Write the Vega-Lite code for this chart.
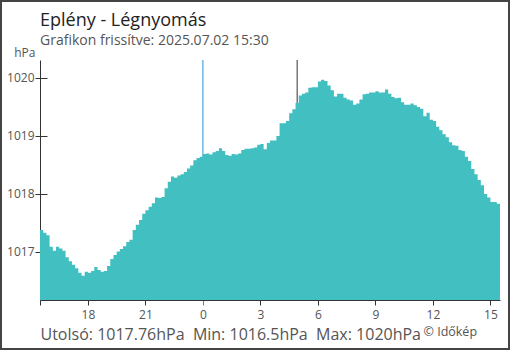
{
"$schema": "https://vega.github.io/schema/vega-lite/v6.json",
"width": 508, "height": 348,
"autosize": "none",
"padding": {"left": 1, "top": 1, "right": 1, "bottom": 1},
"background": "white",
"config": {"font": "Open Sans", "view": {"stroke": "#444", "strokeWidth": 2}, "axis": {"grid": false}},
"title": {"text": "Eplény - Légnyomás", "subtitle": "Grafikon frissítve: 2025.07.02 15:30", "anchor": "start", "frame": "group", "orient": "top", "offset": -47, "dx": 39, "fontSize": 18, "fontWeight": "normal", "color": "#222", "subtitleFontSize": 14, "subtitleColor": "#555", "subtitlePadding": 4},
"datasets": {
"pressure": [
{"t":"2025-07-01T15:30","p":1017.38},{"t":"2025-07-01T15:40","p":1017.33},{"t":"2025-07-01T15:50","p":1017.29},{"t":"2025-07-01T16:00","p":1017.09},{"t":"2025-07-01T16:10","p":1017.02},{"t":"2025-07-01T16:20","p":1017.09},{"t":"2025-07-01T16:30","p":1017.06},{"t":"2025-07-01T16:40","p":1017.02},{"t":"2025-07-01T16:50","p":1016.91},{"t":"2025-07-01T17:00","p":1016.84},
{"t":"2025-07-01T17:10","p":1016.78},{"t":"2025-07-01T17:20","p":1016.72},{"t":"2025-07-01T17:30","p":1016.64},{"t":"2025-07-01T17:40","p":1016.59},{"t":"2025-07-01T17:50","p":1016.66},{"t":"2025-07-01T18:00","p":1016.64},{"t":"2025-07-01T18:10","p":1016.67},{"t":"2025-07-01T18:20","p":1016.74},{"t":"2025-07-01T18:30","p":1016.69},{"t":"2025-07-01T18:40","p":1016.66},
{"t":"2025-07-01T18:50","p":1016.67},{"t":"2025-07-01T19:00","p":1016.76},{"t":"2025-07-01T19:10","p":1016.88},{"t":"2025-07-01T19:20","p":1016.95},{"t":"2025-07-01T19:30","p":1017.01},{"t":"2025-07-01T19:40","p":1017.05},{"t":"2025-07-01T19:50","p":1017.10},{"t":"2025-07-01T20:00","p":1017.17},{"t":"2025-07-01T20:10","p":1017.21},{"t":"2025-07-01T20:20","p":1017.38},
{"t":"2025-07-01T20:30","p":1017.47},{"t":"2025-07-01T20:40","p":1017.55},{"t":"2025-07-01T20:50","p":1017.66},{"t":"2025-07-01T21:00","p":1017.72},{"t":"2025-07-01T21:10","p":1017.78},{"t":"2025-07-01T21:20","p":1017.84},{"t":"2025-07-01T21:30","p":1017.94},{"t":"2025-07-01T21:40","p":1017.93},{"t":"2025-07-01T21:50","p":1017.95},{"t":"2025-07-01T22:00","p":1018.10},
{"t":"2025-07-01T22:10","p":1018.21},{"t":"2025-07-01T22:20","p":1018.30},{"t":"2025-07-01T22:30","p":1018.28},{"t":"2025-07-01T22:40","p":1018.32},{"t":"2025-07-01T22:50","p":1018.34},{"t":"2025-07-01T23:00","p":1018.38},{"t":"2025-07-01T23:10","p":1018.44},{"t":"2025-07-01T23:20","p":1018.49},{"t":"2025-07-01T23:30","p":1018.58},{"t":"2025-07-01T23:40","p":1018.62},
{"t":"2025-07-01T23:50","p":1018.64},{"t":"2025-07-02T00:00","p":1018.69},{"t":"2025-07-02T00:10","p":1018.70},{"t":"2025-07-02T00:20","p":1018.68},{"t":"2025-07-02T00:30","p":1018.72},{"t":"2025-07-02T00:40","p":1018.74},{"t":"2025-07-02T00:50","p":1018.79},{"t":"2025-07-02T01:00","p":1018.74},{"t":"2025-07-02T01:10","p":1018.67},{"t":"2025-07-02T01:20","p":1018.66},
{"t":"2025-07-02T01:30","p":1018.69},{"t":"2025-07-02T01:40","p":1018.68},{"t":"2025-07-02T01:50","p":1018.70},{"t":"2025-07-02T02:00","p":1018.76},{"t":"2025-07-02T02:10","p":1018.78},{"t":"2025-07-02T02:20","p":1018.78},{"t":"2025-07-02T02:30","p":1018.79},{"t":"2025-07-02T02:40","p":1018.80},{"t":"2025-07-02T02:50","p":1018.85},{"t":"2025-07-02T03:00","p":1018.86},
{"t":"2025-07-02T03:10","p":1018.77},{"t":"2025-07-02T03:20","p":1018.88},{"t":"2025-07-02T03:30","p":1018.92},{"t":"2025-07-02T03:40","p":1018.92},{"t":"2025-07-02T03:50","p":1019.00},{"t":"2025-07-02T04:00","p":1019.22},{"t":"2025-07-02T04:10","p":1019.22},{"t":"2025-07-02T04:20","p":1019.26},{"t":"2025-07-02T04:30","p":1019.39},{"t":"2025-07-02T04:40","p":1019.46},
{"t":"2025-07-02T04:50","p":1019.57},{"t":"2025-07-02T05:00","p":1019.70},{"t":"2025-07-02T05:10","p":1019.73},{"t":"2025-07-02T05:20","p":1019.75},{"t":"2025-07-02T05:30","p":1019.83},{"t":"2025-07-02T05:40","p":1019.84},{"t":"2025-07-02T05:50","p":1019.84},{"t":"2025-07-02T06:00","p":1019.94},{"t":"2025-07-02T06:10","p":1019.97},{"t":"2025-07-02T06:20","p":1019.95},
{"t":"2025-07-02T06:30","p":1019.87},{"t":"2025-07-02T06:40","p":1019.79},{"t":"2025-07-02T06:50","p":1019.68},{"t":"2025-07-02T07:00","p":1019.73},{"t":"2025-07-02T07:10","p":1019.73},{"t":"2025-07-02T07:20","p":1019.66},{"t":"2025-07-02T07:30","p":1019.63},{"t":"2025-07-02T07:40","p":1019.61},{"t":"2025-07-02T07:50","p":1019.54},{"t":"2025-07-02T08:00","p":1019.56},
{"t":"2025-07-02T08:10","p":1019.63},{"t":"2025-07-02T08:20","p":1019.72},{"t":"2025-07-02T08:30","p":1019.73},{"t":"2025-07-02T08:40","p":1019.75},{"t":"2025-07-02T08:50","p":1019.75},{"t":"2025-07-02T09:00","p":1019.77},{"t":"2025-07-02T09:10","p":1019.75},{"t":"2025-07-02T09:20","p":1019.75},{"t":"2025-07-02T09:30","p":1019.80},{"t":"2025-07-02T09:40","p":1019.73},
{"t":"2025-07-02T09:50","p":1019.67},{"t":"2025-07-02T10:00","p":1019.65},{"t":"2025-07-02T10:10","p":1019.66},{"t":"2025-07-02T10:20","p":1019.58},{"t":"2025-07-02T10:30","p":1019.54},{"t":"2025-07-02T10:40","p":1019.54},{"t":"2025-07-02T10:50","p":1019.56},{"t":"2025-07-02T11:00","p":1019.53},{"t":"2025-07-02T11:10","p":1019.50},{"t":"2025-07-02T11:20","p":1019.47},
{"t":"2025-07-02T11:30","p":1019.34},{"t":"2025-07-02T11:40","p":1019.40},{"t":"2025-07-02T11:50","p":1019.28},{"t":"2025-07-02T12:00","p":1019.26},{"t":"2025-07-02T12:10","p":1019.16},{"t":"2025-07-02T12:20","p":1019.10},{"t":"2025-07-02T12:30","p":1019.03},{"t":"2025-07-02T12:40","p":1018.98},{"t":"2025-07-02T12:50","p":1018.89},{"t":"2025-07-02T13:00","p":1018.84},
{"t":"2025-07-02T13:10","p":1018.83},{"t":"2025-07-02T13:20","p":1018.76},{"t":"2025-07-02T13:30","p":1018.74},{"t":"2025-07-02T13:40","p":1018.64},{"t":"2025-07-02T13:50","p":1018.57},{"t":"2025-07-02T14:00","p":1018.43},{"t":"2025-07-02T14:10","p":1018.34},{"t":"2025-07-02T14:20","p":1018.24},{"t":"2025-07-02T14:30","p":1018.15},{"t":"2025-07-02T14:40","p":1018.00},
{"t":"2025-07-02T14:50","p":1017.94},{"t":"2025-07-02T15:00","p":1017.86},{"t":"2025-07-02T15:10","p":1017.86},{"t":"2025-07-02T15:20","p":1017.83},{"t":"2025-07-02T15:30","p":1017.76}
],
"markers": [{"t":"2025-07-02T00:00","kind":"midnight"},{"t":"2025-07-02T04:55","kind":"sunrise"}]
},
"resolve": {"axis": {"x": "independent", "y": "independent"}},
"layer": [
{"data": {"name": "markers"},
 "mark": {"type": "rule", "strokeWidth": 1},
 "encoding": {
  "x": {"field": "t", "type": "temporal",
        "scale": {"domain": [{"year":2025,"month":7,"date":1,"hours":15,"minutes":30},{"year":2025,"month":7,"date":2,"hours":15,"minutes":30}], "range": [39, 499]},
        "axis": {"orient": "top", "labels": false, "ticks": false, "domain": false, "title": "© Időkép", "titleX": 422, "titleY": 334, "titleAlign": "left", "titleAnchor": "start", "titleBaseline": "alphabetic", "titleFontSize": 12.5, "titleFontWeight": "normal", "titleColor": "#555"}},
  "y": {"datum": 1020.31, "type": "quantitative",
        "scale": {"domain": [1016.172, 1020.31], "range": [299, 59], "zero": false, "nice": false},
        "axis": {"orient": "right", "offset": -469, "values": [1017, 1018, 1019, 1020], "labels": false, "domain": false, "tickSize": 7, "tickColor": "#333", "title": null}},
  "y2": {"datum": 1016.172},
  "color": {"field": "kind", "type": "nominal", "scale": {"domain": ["midnight", "sunrise"], "range": ["#2196DC", "#333333"]}, "legend": null}
 }},
{"data": {"name": "pressure"},
 "mark": {"type": "area", "interpolate": "step-after", "color": "#42BFC1"},
 "encoding": {
  "x": {"field": "t", "type": "temporal",
        "scale": {"domain": [{"year":2025,"month":7,"date":1,"hours":15,"minutes":30},{"year":2025,"month":7,"date":2,"hours":15,"minutes":30}], "range": [39, 499]},
        "axis": {"orient": "bottom", "offset": -49,
                 "values": [{"year":2025,"month":7,"date":1,"hours":15,"minutes":30},{"year":2025,"month":7,"date":1,"hours":18},{"year":2025,"month":7,"date":1,"hours":21},{"year":2025,"month":7,"date":2,"hours":0},{"year":2025,"month":7,"date":2,"hours":3},{"year":2025,"month":7,"date":2,"hours":6},{"year":2025,"month":7,"date":2,"hours":9},{"year":2025,"month":7,"date":2,"hours":12},{"year":2025,"month":7,"date":2,"hours":15}],
                 "labelExpr": "minutes(datum.value) == 30 ? '' : '' + hours(datum.value)",
                 "domainColor": "#333",
                 "tickColor": {"condition": {"test": "hours(datum.value) == 0 && minutes(datum.value) == 0", "value": "#2196DC"}, "value": "#333"},
                 "tickSize": 5, "labelFontSize": 12, "labelColor": "#555", "labelPadding": 4, "labelFlush": false, "labelOverlap": false,
                 "title": "Utolsó: 1017.76hPa\u00a0 Min: 1016.5hPa\u00a0 Max: 1020hPa",
                 "titleX": 39, "titleY": 39, "titleAlign": "left", "titleAnchor": "start", "titleBaseline": "alphabetic", "titleFontSize": 16, "titleFontWeight": "normal", "titleColor": "#555"}},
  "y": {"field": "p", "type": "quantitative",
        "scale": {"domain": [1016.172, 1020.31], "range": [299, 59], "zero": false, "nice": false},
        "axis": {"orient": "left", "offset": -39, "values": [1017, 1018, 1019, 1020], "format": "d", "tickSize": 5, "tickColor": "#333", "domainColor": "#333", "labelFontSize": 12, "labelColor": "#555", "labelPadding": 1,
                 "title": "hPa", "titleAngle": 0, "titleX": -5, "titleY": 55, "titleAlign": "right", "titleBaseline": "alphabetic", "titleFontSize": 12, "titleFontWeight": "normal", "titleColor": "#555"}},
  "y2": {"datum": 1016.172}
 }}
]
}
